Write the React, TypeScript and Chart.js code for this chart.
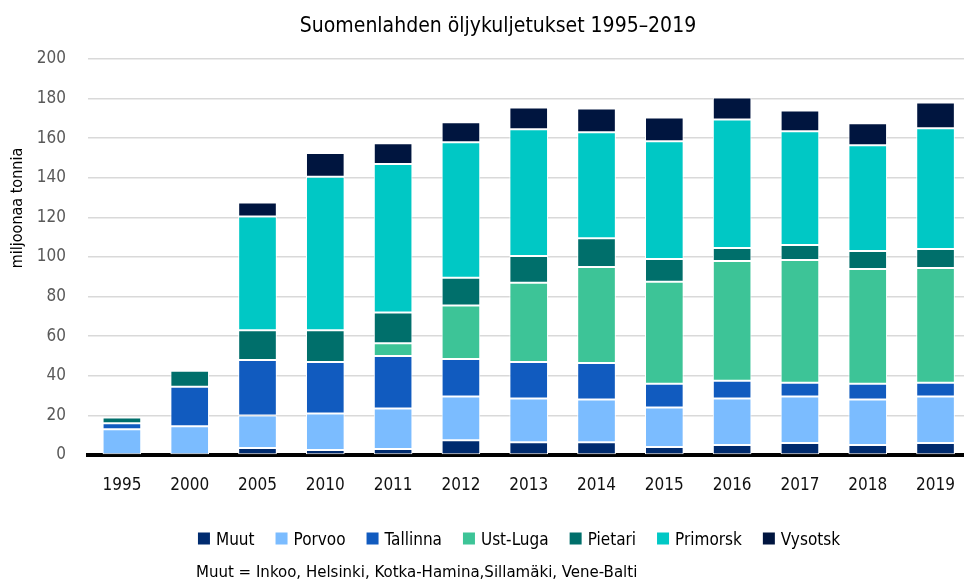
import { useEffect, useRef } from "react";
import { Chart, registerables } from "chart.js";

Chart.register(...registerables);

// ---- Data (miljoonaa tonnia) ----
const years = ["1995", "2000", "2005", "2010", "2011", "2012", "2013", "2014", "2015", "2016", "2017", "2018", "2019"];
const muut = [0, 0, 3.5, 2.5, 3, 7.5, 6.5, 6.5, 4, 5, 6, 5, 6];
const porvoo = [13, 14.5, 16.5, 18.5, 20.5, 22, 22, 21.5, 20, 23.5, 23.5, 23, 23.5];
const tallinna = [3, 20, 28, 26, 26.5, 19, 18.5, 18.5, 12, 9, 7, 8, 7];
const ustLuga = [0, 0, 0, 0, 6.5, 27, 40, 48.5, 51.5, 60.5, 62, 58, 58];
const pietari = [3, 8, 15, 16, 15.5, 14, 13.5, 14.5, 11.5, 6.5, 7.5, 9, 9.5];
const primorsk = [0, 0, 57.5, 77.5, 75, 68.5, 64, 53.5, 59.5, 65, 57.5, 53.5, 61];
const vysotsk = [0, 0, 7, 12, 10.5, 10, 11, 12, 12, 11, 10.5, 11, 13];

const seriesNames = ["Muut", "Porvoo", "Tallinna", "Ust-Luga", "Pietari", "Primorsk", "Vysotsk"];
const seriesValues = [muut, porvoo, tallinna, ustLuga, pietari, primorsk, vysotsk];
const seriesColors = ["#002b6f", "#7bbcff", "#115bbf", "#3dc497", "#006f6b", "#00c8c5", "#00153f"];

const titleText = "Suomenlahden öljykuljetukset 1995–2019";
const yTitleText = "miljoonaa tonnia";
const footnoteText = "Muut = Inkoo, Helsinki, Kotka-Hamina,Sillamäki, Vene-Balti";

const FONT = '"DejaVu Sans Condensed", "DejaVu Sans", sans-serif';
const STYLE = "condensed";

const textPlugin = {
  id: "customTexts",
  afterDraw(chart: any) {
    const ctx = chart.ctx as CanvasRenderingContext2D;
    ctx.save();
    ctx.fillStyle = "#000000";
    ctx.textBaseline = "alphabetic";

    // Title
    ctx.font = `${STYLE} 21px ${FONT}`;
    ctx.textAlign = "center";
    ctx.fillText(titleText, 498, 32);

    // Y axis title
    ctx.save();
    ctx.translate(18, 208);
    ctx.rotate(-Math.PI / 2);
    ctx.font = `${STYLE} 16px ${FONT}`;
    ctx.textAlign = "center";
    ctx.textBaseline = "middle";
    ctx.fillText(yTitleText, 0, 0);
    ctx.restore();

    // Legend
    ctx.font = `${STYLE} 17px ${FONT}`;
    ctx.textAlign = "left";
    const box = 12;
    const gapText = 6;
    const gapItem = 21;
    const ds = chart.data.datasets;
    const widths = ds.map((d: any) => ctx.measureText(d.label).width);
    let total = 0;
    widths.forEach((w: number, i: number) => {
      total += box + gapText + w + (i < widths.length - 1 ? gapItem : 0);
    });
    let x = 519 - total / 2;
    const legendLeft = x;
    ds.forEach((d: any, i: number) => {
      ctx.fillStyle = d.backgroundColor;
      ctx.fillRect(x, 532.5, box, box);
      ctx.fillStyle = "#000000";
      ctx.fillText(d.label, x + box + gapText, 545);
      x += box + gapText + widths[i] + gapItem;
    });

    // Footnote
    ctx.font = `${STYLE} 16.7px ${FONT}`;
    ctx.fillText(footnoteText, legendLeft - 2, 577);
    ctx.restore();
  },
};

export default function App() {
  const canvasRef = useRef<HTMLCanvasElement | null>(null);

  useEffect(() => {
    if (!canvasRef.current) return;
    const chart = new Chart(canvasRef.current, {
      type: "bar",
      data: {
        labels: years,
        datasets: seriesNames.map((name, i) => ({
          label: name,
          data: seriesValues[i],
          backgroundColor: seriesColors[i],
          borderColor: "#ffffff",
          borderWidth: 1,
          borderSkipped: false,
          barPercentage: 0.57,
          categoryPercentage: 1,
        })),
      },
      options: {
        responsive: false,
        animation: false,
        devicePixelRatio: 1,
        layout: { padding: { top: 59, left: 0, right: 0, bottom: 0 } },
        plugins: {
          legend: { display: false },
          title: { display: false },
          tooltip: { enabled: false },
        },
        scales: {
          x: {
            stacked: true,
            z: 1,
            grid: { display: false, drawTicks: false },
            border: { display: true, color: "#000000", width: 4 },
            ticks: {
              color: "#111111",
              font: { family: FONT, size: 17, style: STYLE as any },
              padding: 20,
              maxRotation: 0,
              autoSkip: false,
            },
            afterFit: (s: any) => {
              s.height = 125;
            },
          },
          y: {
            stacked: true,
            min: 0,
            max: 200,
            ticks: {
              stepSize: 20,
              color: "#595959",
              font: { family: FONT, size: 17, style: STYLE as any },
              padding: 22,
            },
            grid: { color: "#d9d9d9", lineWidth: 1.5, drawTicks: false },
            border: { display: false },
            afterFit: (s: any) => {
              s.width = 88;
            },
          },
        },
      },
      plugins: [textPlugin],
    });
    return () => chart.destroy();
  }, []);

  return (
    <div
      style={{
        position: "fixed",
        left: 0,
        top: 0,
        width: 964,
        height: 580,
        overflow: "hidden",
        background: "#ffffff",
      }}
    >
      <canvas ref={canvasRef} width={975} height={580} style={{ display: "block", width: 975, height: 580 }} />
    </div>
  );
}
